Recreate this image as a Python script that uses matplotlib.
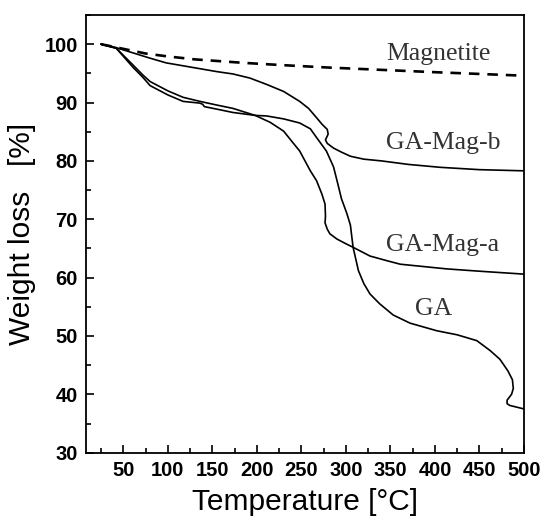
import matplotlib
matplotlib.use("Agg")
import matplotlib.pyplot as plt
from matplotlib.ticker import MultipleLocator

# temperature [C] / weight [%]
mag_t = [25, 50, 75, 100, 130, 185, 230, 280, 340, 400, 450, 500]
mag_w = [100, 99.2, 98.4, 97.9, 97.4, 96.8, 96.4, 96.0, 95.6, 95.2, 94.9, 94.6]

magb_t = [25, 40, 61, 80, 98, 117, 136, 155, 173, 192, 211, 230, 248, 258, 267,
          273, 279, 280, 277, 279, 286, 295, 305, 320, 340, 370, 406, 450, 500]
magb_w = [100, 99.5, 98.5, 97.6, 96.8, 96.3, 95.8, 95.3, 94.9, 94.2, 93.1, 91.9, 90.2, 89.0, 87.4,
          86.3, 85.4, 84.6, 83.6, 83.0, 82.2, 81.5, 80.8, 80.3, 80.0, 79.4, 78.9, 78.5, 78.3]

maga_t = [25, 42, 61, 72, 80, 100, 117, 136, 154, 173, 198, 215, 230, 240, 248, 260, 267,
          273, 276.5, 277, 276.5, 279, 282, 290, 300, 308, 327, 346, 361, 413, 450, 500]
maga_w = [100, 99.3, 96.4, 94.7, 93.6, 92.0, 90.9, 90.2, 89.6, 89.0, 87.8, 86.6, 85.1, 83.2, 81.7, 78.3, 76.6,
          74.3, 72.6, 70.5, 69.4, 68.3, 67.5, 66.6, 65.8, 65.2, 63.7, 62.9, 62.3, 61.5, 61.1, 60.6]

ga_t = [25, 42, 61, 72, 80, 100, 117, 136, 139, 141, 154, 173, 198, 211, 230, 248, 260, 267,
        278, 286, 290, 295, 301, 305, 308, 314, 320, 327, 338, 353, 372, 402, 425, 447, 462,
        473, 482, 487, 488, 486, 481, 481, 484, 492, 500]
ga_w = [100, 99.3, 96.0, 94.3, 92.9, 91.3, 90.2, 89.9, 89.7, 89.3, 88.9, 88.3, 87.8, 87.7, 87.2, 86.5, 85.5, 84.0,
        81.7, 79.0, 76.6, 73.5, 71.0, 69.0, 65.2, 61.2, 59.0, 57.2, 55.5, 53.6, 52.2, 50.9, 50.2, 49.2, 47.5,
        46.0, 44.0, 42.5, 41.0, 40.0, 39.0, 38.4, 38.1, 37.8, 37.5]

labels = ["Magnetite", "GA-Mag-b", "GA-Mag-a", "GA"]
label_pos = [(345, 98.3), (345, 83.0), (345, 65.6), (398, 54.6)]

plt.rcParams['font.family'] = ['Liberation Sans', 'DejaVu Sans']

fig = plt.figure(figsize=(5.43, 5.23), dpi=100)
ax = fig.add_axes([0.1584, 0.1344, 0.8066, 0.8369])

ax.plot(mag_t, mag_w, color='black', lw=1.9, ls=(0, (4, 3)))
ax.plot(magb_t, magb_w, color='black', lw=1.2)
ax.plot(maga_t, maga_w, color='black', lw=1.2)
ax.plot(ga_t, ga_w, color='black', lw=1.2)

for txt, (x, y) in zip(labels, label_pos):
    ha = 'center' if txt == "GA" else 'left'
    ax.text(x, y, txt, family='Liberation Serif', fontsize=18.5, color='#333333',
            ha=ha, va='center')

ax.set_xlim(8, 500)
ax.set_ylim(30, 105)
ax.xaxis.set_major_locator(MultipleLocator(50))
ax.xaxis.set_minor_locator(MultipleLocator(25))
ax.yaxis.set_major_locator(MultipleLocator(10))
ax.yaxis.set_minor_locator(MultipleLocator(5))
ax.set_xticks(range(50, 501, 50))
ax.tick_params(which='both', direction='in', top=False, right=False, width=1.2)
ax.tick_params(which='major', length=6, labelsize=14.5, pad=6)
ax.tick_params(which='minor', length=3.5)
for lab in ax.get_xticklabels() + ax.get_yticklabels():
    lab.set_fontweight('bold')
for s in ax.spines.values():
    s.set_linewidth(1.3)

ax.set_xlabel("Temperature [°C]", fontsize=21.5, labelpad=6)
ax.set_ylabel("Weight loss   [%]", fontsize=21.5, labelpad=6)

fig.savefig("out.png", dpi=100)
